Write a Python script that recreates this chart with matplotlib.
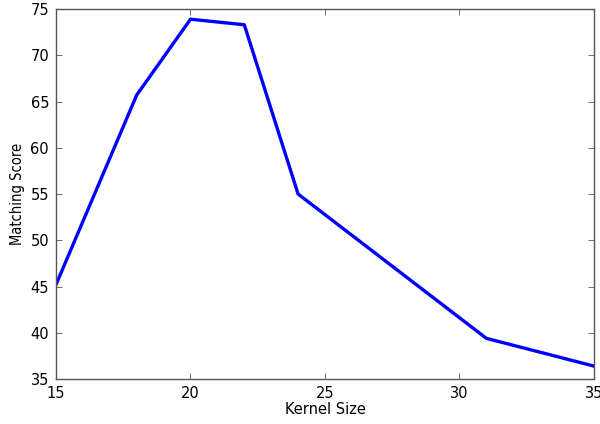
import matplotlib
matplotlib.use('Agg')
import matplotlib.pyplot as plt

kernel_size = [15, 18, 20, 22, 24, 31, 35]
matching_score = [45.2, 65.7, 73.9, 73.3, 55.0, 39.4, 36.4]


def main():
    fig = plt.figure(figsize=(6, 4.24), dpi=100)
    ax = fig.add_axes([0.0933, 0.106, 0.8967, 0.8727])

    ax.plot(kernel_size, matching_score, color='#0000ff', linewidth=2.4)

    ax.set_xlim(15, 35)
    ax.set_ylim(35, 75)
    ax.set_xticks([15, 20, 25, 30, 35])
    ax.set_yticks(range(35, 80, 5))
    ax.tick_params(direction='in', top=True, right=True, labelsize=10.5,
                   length=4, width=0.6, color='#555555', pad=5)
    for s in ax.spines.values():
        s.set_color('#555555')
        s.set_linewidth(1.0)

    ax.set_xlabel('Kernel Size', fontsize=10.5, labelpad=1)
    ax.set_ylabel('Matching Score', fontsize=10.5, fontstretch='condensed',
                  family='DejaVu Sans')

    fig.savefig('out.png', dpi=100)


if __name__ == "__main__":
    main()
